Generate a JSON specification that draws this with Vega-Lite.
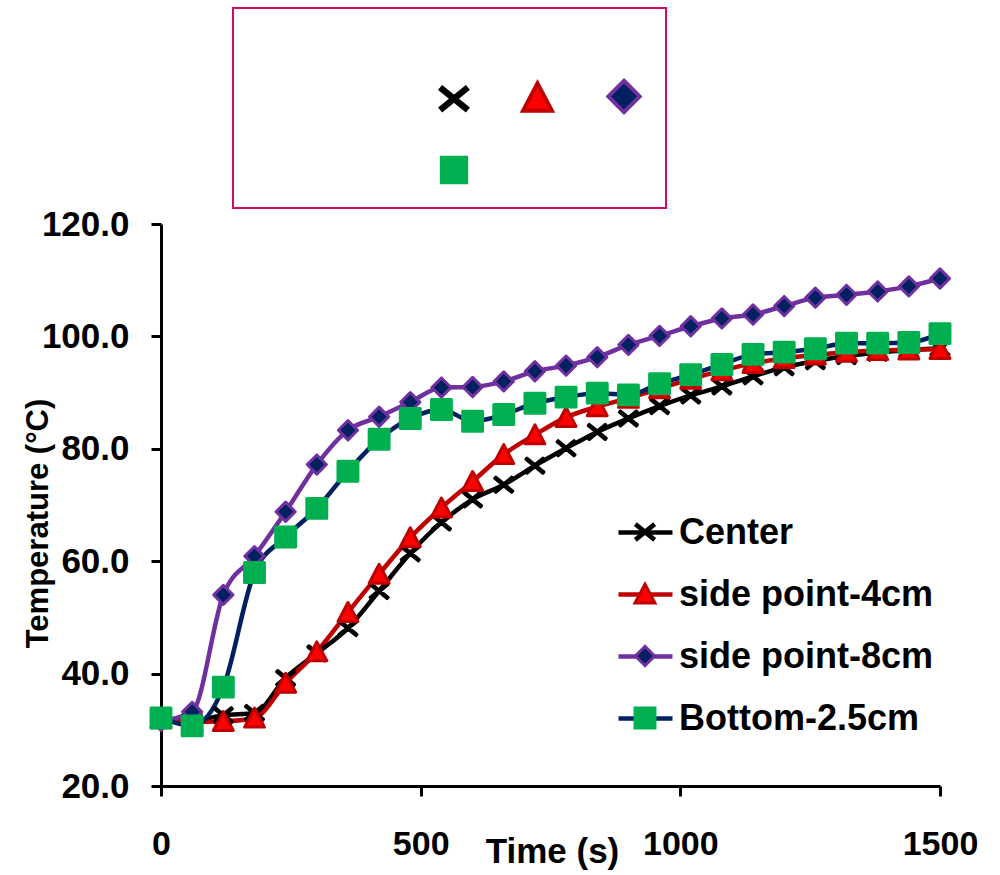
{
  "$schema": "https://vega.github.io/schema/vega-lite/v6.json",
  "autosize": {"type": "none"},
  "padding": {"left": 161, "top": 224, "right": 60, "bottom": 89},
  "width": 779,
  "height": 562,
  "config": {
    "view": {"stroke": null},
    "font": "Liberation Sans",
    "legend": {"strokeWidth": 2},
    "axis": {"grid": false, "domainColor": "#000000", "domainWidth": 3, "tickColor": "#000000", "tickWidth": 3, "tickSize": 10, "labelColor": "#000000", "labelFont": "Liberation Sans", "labelFontWeight": "bold", "titleColor": "#000000", "titleFont": "Liberation Sans", "titleFontWeight": "bold", "labelFlush": false, "labelOverlap": false}
  },
  "data": {
    "values": [
      {"t": 0, "series": "Center", "temp": 32.0}, {"t": 60, "series": "Center", "temp": 31.6}, {"t": 120, "series": "Center", "temp": 32.6}, {"t": 180, "series": "Center", "temp": 33.0}, {"t": 240, "series": "Center", "temp": 39.2}, {"t": 300, "series": "Center", "temp": 43.6}, {"t": 360, "series": "Center", "temp": 48.1}, {"t": 420, "series": "Center", "temp": 54.7}, {"t": 480, "series": "Center", "temp": 61.4}, {"t": 540, "series": "Center", "temp": 66.9}, {"t": 600, "series": "Center", "temp": 71.0}, {"t": 660, "series": "Center", "temp": 73.6}, {"t": 720, "series": "Center", "temp": 77.0}, {"t": 780, "series": "Center", "temp": 80.1}, {"t": 840, "series": "Center", "temp": 83.0}, {"t": 900, "series": "Center", "temp": 85.4}, {"t": 960, "series": "Center", "temp": 87.6}, {"t": 1020, "series": "Center", "temp": 89.5}, {"t": 1080, "series": "Center", "temp": 91.1}, {"t": 1140, "series": "Center", "temp": 92.9}, {"t": 1200, "series": "Center", "temp": 94.5}, {"t": 1260, "series": "Center", "temp": 95.6}, {"t": 1320, "series": "Center", "temp": 96.5}, {"t": 1380, "series": "Center", "temp": 97.1}, {"t": 1440, "series": "Center", "temp": 97.6}, {"t": 1500, "series": "Center", "temp": 97.9},
      {"t": 0, "series": "side point-4cm", "temp": 32.0}, {"t": 60, "series": "side point-4cm", "temp": 31.4}, {"t": 120, "series": "side point-4cm", "temp": 31.5}, {"t": 180, "series": "side point-4cm", "temp": 32.1}, {"t": 240, "series": "side point-4cm", "temp": 38.3}, {"t": 300, "series": "side point-4cm", "temp": 43.9}, {"t": 360, "series": "side point-4cm", "temp": 50.9}, {"t": 420, "series": "side point-4cm", "temp": 57.7}, {"t": 480, "series": "side point-4cm", "temp": 64.2}, {"t": 540, "series": "side point-4cm", "temp": 69.5}, {"t": 600, "series": "side point-4cm", "temp": 74.2}, {"t": 660, "series": "side point-4cm", "temp": 79.0}, {"t": 720, "series": "side point-4cm", "temp": 82.5}, {"t": 780, "series": "side point-4cm", "temp": 85.6}, {"t": 840, "series": "side point-4cm", "temp": 87.5}, {"t": 900, "series": "side point-4cm", "temp": 89.0}, {"t": 960, "series": "side point-4cm", "temp": 90.7}, {"t": 1020, "series": "side point-4cm", "temp": 92.4}, {"t": 1080, "series": "side point-4cm", "temp": 93.9}, {"t": 1140, "series": "side point-4cm", "temp": 95.2}, {"t": 1200, "series": "side point-4cm", "temp": 96.1}, {"t": 1260, "series": "side point-4cm", "temp": 96.7}, {"t": 1320, "series": "side point-4cm", "temp": 97.2}, {"t": 1380, "series": "side point-4cm", "temp": 97.5}, {"t": 1440, "series": "side point-4cm", "temp": 97.6}, {"t": 1500, "series": "side point-4cm", "temp": 97.7},
      {"t": 0, "series": "side point-8cm", "temp": 31.6}, {"t": 60, "series": "side point-8cm", "temp": 33.2}, {"t": 120, "series": "side point-8cm", "temp": 54.0}, {"t": 180, "series": "side point-8cm", "temp": 60.9}, {"t": 240, "series": "side point-8cm", "temp": 68.8}, {"t": 300, "series": "side point-8cm", "temp": 77.2}, {"t": 360, "series": "side point-8cm", "temp": 83.3}, {"t": 420, "series": "side point-8cm", "temp": 85.7}, {"t": 480, "series": "side point-8cm", "temp": 88.3}, {"t": 540, "series": "side point-8cm", "temp": 90.9}, {"t": 600, "series": "side point-8cm", "temp": 91.0}, {"t": 660, "series": "side point-8cm", "temp": 92.0}, {"t": 720, "series": "side point-8cm", "temp": 93.8}, {"t": 780, "series": "side point-8cm", "temp": 94.8}, {"t": 840, "series": "side point-8cm", "temp": 96.3}, {"t": 900, "series": "side point-8cm", "temp": 98.5}, {"t": 960, "series": "side point-8cm", "temp": 100.1}, {"t": 1020, "series": "side point-8cm", "temp": 101.8}, {"t": 1080, "series": "side point-8cm", "temp": 103.2}, {"t": 1140, "series": "side point-8cm", "temp": 103.9}, {"t": 1200, "series": "side point-8cm", "temp": 105.4}, {"t": 1260, "series": "side point-8cm", "temp": 106.9}, {"t": 1320, "series": "side point-8cm", "temp": 107.4}, {"t": 1380, "series": "side point-8cm", "temp": 108.0}, {"t": 1440, "series": "side point-8cm", "temp": 108.9}, {"t": 1500, "series": "side point-8cm", "temp": 110.3},
      {"t": 0, "series": "Bottom-2.5cm", "temp": 32.1}, {"t": 60, "series": "Bottom-2.5cm", "temp": 30.7}, {"t": 120, "series": "Bottom-2.5cm", "temp": 37.6}, {"t": 180, "series": "Bottom-2.5cm", "temp": 58.0}, {"t": 240, "series": "Bottom-2.5cm", "temp": 64.3}, {"t": 300, "series": "Bottom-2.5cm", "temp": 69.4}, {"t": 360, "series": "Bottom-2.5cm", "temp": 76.0}, {"t": 420, "series": "Bottom-2.5cm", "temp": 81.7}, {"t": 480, "series": "Bottom-2.5cm", "temp": 85.4}, {"t": 540, "series": "Bottom-2.5cm", "temp": 87.0}, {"t": 600, "series": "Bottom-2.5cm", "temp": 84.9}, {"t": 660, "series": "Bottom-2.5cm", "temp": 86.1}, {"t": 720, "series": "Bottom-2.5cm", "temp": 88.1}, {"t": 780, "series": "Bottom-2.5cm", "temp": 89.2}, {"t": 840, "series": "Bottom-2.5cm", "temp": 89.9}, {"t": 900, "series": "Bottom-2.5cm", "temp": 89.6}, {"t": 960, "series": "Bottom-2.5cm", "temp": 91.6}, {"t": 1020, "series": "Bottom-2.5cm", "temp": 93.2}, {"t": 1080, "series": "Bottom-2.5cm", "temp": 95.0}, {"t": 1140, "series": "Bottom-2.5cm", "temp": 96.8}, {"t": 1200, "series": "Bottom-2.5cm", "temp": 97.2}, {"t": 1260, "series": "Bottom-2.5cm", "temp": 97.8}, {"t": 1320, "series": "Bottom-2.5cm", "temp": 98.8}, {"t": 1380, "series": "Bottom-2.5cm", "temp": 98.8}, {"t": 1440, "series": "Bottom-2.5cm", "temp": 98.9}, {"t": 1500, "series": "Bottom-2.5cm", "temp": 100.5}
    ]
  },
  "encoding": {
    "x": {"field": "t", "type": "quantitative", "scale": {"domain": [0, 1500], "nice": false, "zero": false},
      "axis": {"title": "Time (s)", "values": [0, 500, 1000, 1500], "format": "d", "labelFontSize": 34, "labelPadding": 31, "titleFontSize": 35, "titleX": 391, "titleY": 76, "titleBaseline": "alphabetic", "titleAlign": "center"}},
    "y": {"field": "temp", "type": "quantitative", "scale": {"domain": [20, 120], "nice": false, "zero": false},
      "axis": {"title": "Temperature (°C)", "values": [20, 40, 60, 80, 100, 120], "format": ".1f", "labelFontSize": 35, "labelPadding": 22, "titleFontSize": 31, "titleX": -114, "titleY": 299, "titleAngle": 270, "titleBaseline": "alphabetic", "titleAlign": "center"}}
  },
  "layer": [
    {
      "mark": {"type": "line", "strokeWidth": 4.5, "interpolate": "monotone"},
      "encoding": {
        "stroke": {"field": "series", "type": "nominal",
          "scale": {"domain": ["Center", "side point-4cm", "side point-8cm", "Bottom-2.5cm"], "range": ["#000000", "#C00000", "#7030A0", "#002060"]},
          "legend": {"orient": "none", "legendX": 455, "legendY": 279, "padding": 0, "title": null, "symbolType": "stroke", "symbolSize": 2916, "symbolStrokeWidth": 4.5, "labelFontSize": 36, "labelFont": "Liberation Sans", "labelFontWeight": "bold", "labelColor": "#000000", "labelOffset": 4, "labelLimit": 600, "rowPadding": 14}}
      }
    },
    {
      "mark": {"type": "point", "filled": true, "opacity": 1, "size": 576, "strokeWidth": 3, "strokeJoin": "round"},
      "encoding": {
        "shape": {"field": "series", "type": "nominal",
          "scale": {"domain": ["Center", "side point-4cm", "side point-8cm", "Bottom-2.5cm"], "range": ["M-0.754,-0.526L0.666,0.634L0.754,0.526L-0.666,-0.634ZM-0.666,0.634L0.754,-0.526L0.666,-0.634L-0.754,0.526Z", "M0,-0.82L0.83,0.76L-0.83,0.76Z", "M0,-0.8L0.8,0L0,0.8L-0.8,0Z", "M-0.83,-0.83L0.83,-0.83L0.83,0.83L-0.83,0.83Z"]},
          "legend": {"orient": "none", "legendX": 466, "legendY": 290, "padding": 0, "title": null, "labelExpr": "''", "labelFontSize": 36, "rowPadding": 26, "symbolOpacity": 1, "symbolSize": 576, "symbolStrokeWidth": 3}},
        "fill": {"field": "series", "type": "nominal",
          "scale": {"domain": ["Center", "side point-4cm", "side point-8cm", "Bottom-2.5cm"], "range": ["#000000", "#FF0000", "#002060", "#00B050"]}},
        "stroke": {"field": "series", "type": "nominal",
          "scale": {"domain": ["Center", "side point-4cm", "side point-8cm", "Bottom-2.5cm"], "range": ["#000000", "#C00000", "#7030A0", "#00B050"]}}
      }
    },
    {
      "transform": [{"filter": "false"}],
      "mark": {"type": "point", "filled": true, "size": 1211, "strokeWidth": 4, "strokeJoin": "round"},
      "encoding": {
        "shape": {"field": "series", "type": "nominal",
          "scale": {"domain": ["Center", "side point-4cm", "side point-8cm", "Bottom-2.5cm"], "range": ["M-0.754,-0.526L0.666,0.634L0.754,0.526L-0.666,-0.634ZM-0.666,0.634L0.754,-0.526L0.666,-0.634L-0.754,0.526Z", "M0,-0.82L0.83,0.76L-0.83,0.76Z", "M0,-0.9L0.9,0L0,0.9L-0.9,0Z", "M-0.7,-0.7L0.7,-0.7L0.7,0.7L-0.7,0.7Z"]},
          "legend": {"orient": "none", "direction": "horizontal", "legendX": 72, "legendY": -216, "padding": 17.5, "strokeColor": "#CF0A6C",
            "title": "\u2800\u00a0\u00a0\u00a0\u00a0\u00a0\u00a0\u00a0\u00a0\u00a0\u00a0\u00a0\u00a0\u00a0\u00a0\u00a0\u00a0\u00a0\u00a0\u00a0\u00a0\u00a0\u00a0\u00a0\u00a0\u00a0\u00a0\u00a0\u00a0\u00a0\u00a0\u00a0\u00a0\u00a0\u00a0\u00a0\u00a0\u00a0\u00a0\u00a0\u00a0\u00a0\u00a0\u00a0\u00a0\u00a0\u00a0\u00a0\u00a0\u00a0\u00a0\u00a0\u00a0\u00a0\u00a0\u00a0\u00a0\u00a0\u00a0\u00a0\u00a0\u00a0\u00a0\u00a0\u00a0\u00a0\u00a0\u2800",
            "titleColor": "transparent", "titleFontSize": 20, "titleLimit": 2000, "titleAnchor": "end", "titleOrient": "top", "titlePadding": 31,
            "columns": 3, "columnPadding": 39.5, "rowPadding": 29, "labelExpr": "''", "labelFontSize": 10, "labelOffset": 0, "symbolOpacity": 1, "symbolSize": 1211, "symbolStrokeWidth": 4}},
        "fill": {"field": "series", "type": "nominal",
          "scale": {"domain": ["Center", "side point-4cm", "side point-8cm", "Bottom-2.5cm"], "range": ["#000000", "#FF0000", "#002060", "#00B050"]}},
        "stroke": {"field": "series", "type": "nominal",
          "scale": {"domain": ["Center", "side point-4cm", "side point-8cm", "Bottom-2.5cm"], "range": ["#000000", "#C00000", "#7030A0", "#00B050"]}}
      }
    }
  ],
  "resolve": {
    "scale": {"stroke": "independent", "shape": "independent", "fill": "independent"},
    "legend": {"stroke": "independent", "shape": "independent", "fill": "independent"}
  }
}
